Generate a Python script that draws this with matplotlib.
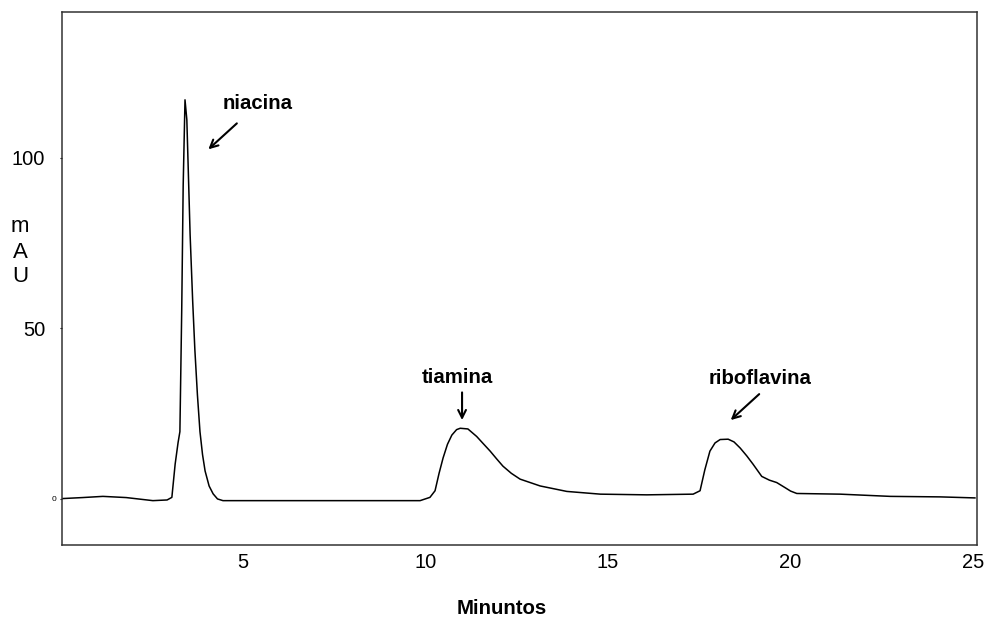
import matplotlib
matplotlib.use("Agg")
import matplotlib.pyplot as plt

# cromatograma: tiempo (min) y absorbancia (mAU)
tiempo = [0.04, 0.6, 1.16, 1.8, 2.53, 2.92, 3.05, 3.14, 3.22, 3.27, 3.32, 3.36,
          3.41, 3.46, 3.55, 3.62, 3.68, 3.75, 3.82, 3.89, 3.96, 4.07, 4.18, 4.30,
          4.45, 9.85, 10.12, 10.26, 10.37, 10.48, 10.60, 10.72, 10.85, 10.95,
          11.16, 11.40, 11.58, 11.77, 11.95, 12.12, 12.35, 12.59, 13.14, 13.87,
          14.79, 16.06, 17.33, 17.52, 17.65, 17.79, 17.93, 18.07, 18.29, 18.45,
          18.62, 18.80, 18.97, 19.21, 19.42, 19.62, 19.85, 20.00, 20.17, 21.36,
          22.73, 24.10, 25.05]
mau = [0.1, 0.4, 0.75, 0.4, -0.5, -0.3, 0.46, 10.2, 16.5, 19.7, 55.3, 91.8,
       116.9, 111.1, 77.4, 58.0, 43.7, 30.5, 19.7, 13.0, 8.2, 3.8, 1.5, 0.0,
       -0.5, -0.5, 0.46, 2.4, 7.5, 12.0, 16.0, 18.7, 20.3, 20.7,
       20.5, 18.3, 16.2, 14.0, 11.7, 9.6, 7.5, 5.8, 3.8, 2.2,
       1.4, 1.2, 1.4, 2.4, 8.5, 14.0, 16.4, 17.4, 17.5, 16.7,
       14.9, 12.6, 10.2, 6.6, 5.5, 4.8, 3.3, 2.3, 1.6, 1.4,
       0.75, 0.6, 0.3]

yticks = [0, 50, 100]
xticks = [5, 10, 15, 20, 25]

# picos: nombre, posicion del texto (linea base), cola y punta de la flecha
picos = ["niacina", "tiamina", "riboflavina"]
texto_xy = [(5.41, 114.3), (10.86, 34.1), (19.16, 33.6)]
cola_xy = [(4.83, 110.0), (11.0, 31.2), (19.14, 30.7)]
punta_xy = [(4.05, 102.4), (11.0, 23.1), (18.36, 23.1)]

plt.rcParams['font.family'] = ['Liberation Sans', 'DejaVu Sans']

fig = plt.figure(figsize=(9.84, 6.19), dpi=100)
ax = fig.add_axes([0.063, 0.1195, 0.930, 0.861])

ax.plot(tiempo, mau, color='black', linewidth=1.1)

ax.set_xlim(0.04, 25.11)
ax.set_ylim(-13.5, 142.6)

ax.set_xticks(xticks)
ax.set_xticklabels([str(v) for v in xticks], fontsize=14.5)
ax.set_yticks(yticks)
ax.set_yticklabels([str(v) for v in yticks], fontsize=14.5)
ax.tick_params(axis='x', length=0, pad=5.5)
ax.tick_params(axis='y', length=1.5, pad=10.5)

# el "0" es pequeño y pegado al eje
t0 = ax.yaxis.get_major_ticks()[0]
t0.label1.set_fontsize(6)
t0.set_pad(2.5)

for sp in ax.spines.values():
    sp.set_color('#333333')
    sp.set_linewidth(1.1)

for nombre, txy, c, p in zip(picos, texto_xy, cola_xy, punta_xy):
    ax.text(txy[0], txy[1], nombre, fontsize=14.7, fontweight='bold',
            ha='center', va='baseline')
    ax.annotate('', xy=p, xytext=c,
                arrowprops=dict(arrowstyle='->', color='black', lw=1.5,
                                mutation_scale=14, shrinkA=0, shrinkB=0))

fig.text(502 / 984, 1 - 608.5 / 619, 'Minuntos', fontsize=14.7,
         fontweight='bold', ha='center', va='center')
fig.text(20 / 984, 1 - 252 / 619, 'm\nA\nU', fontsize=16,
         ha='center', va='center', linespacing=1.25)

fig.savefig('out.png', dpi=100)
